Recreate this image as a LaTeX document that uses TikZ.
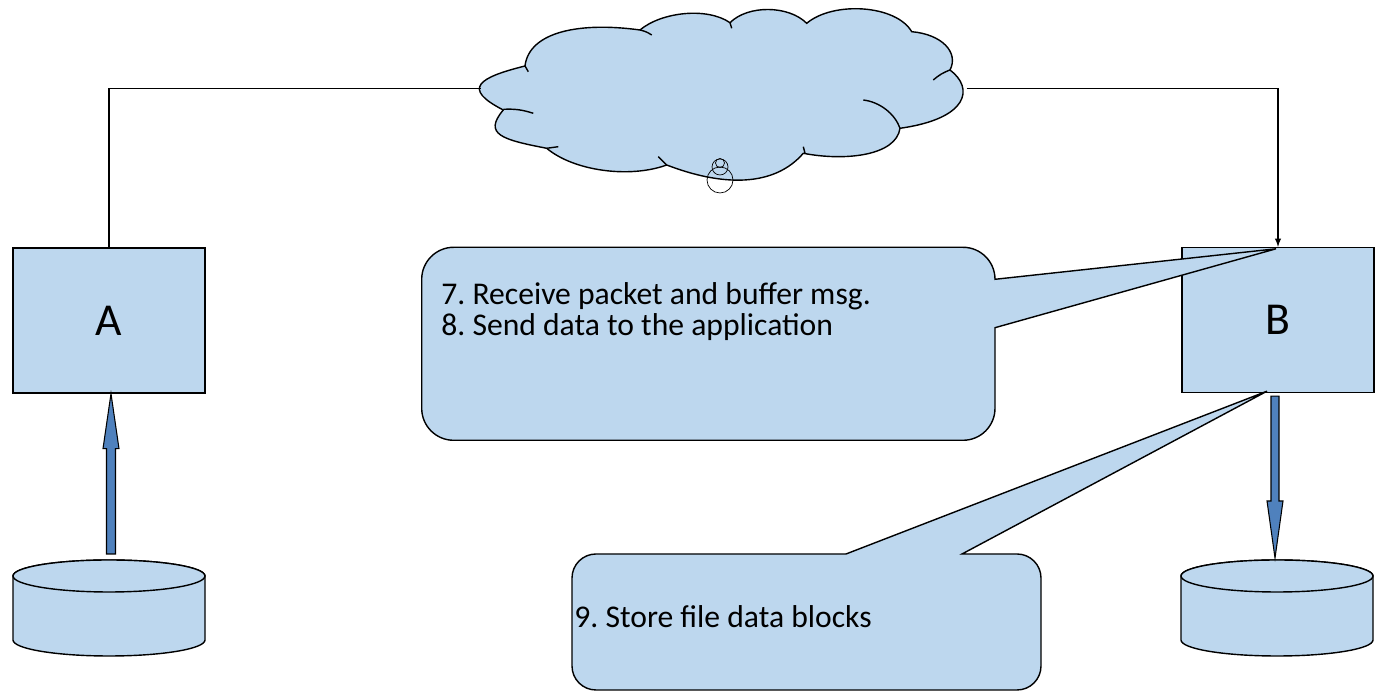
\documentclass[tikz,border=0pt]{standalone}
\usepackage{fontspec}
\setmainfont{Carlito}
\usetikzlibrary{arrows.meta,calc}
\definecolor{paleblue}{HTML}{BDD7EE}
\definecolor{darkblue}{HTML}{4F81BD}
\tikzset{
  host/.style={draw, line width=0.8pt, fill=paleblue, minimum width=3.84cm,
    minimum height=2.9cm, font=\fontsize{26}{30}\selectfont},
  net/.style={draw, line width=0.8pt, fill=paleblue},
  link/.style={line width=0.6pt},
  bubble/.style={draw, line width=0.8pt, fill=paleblue},
  note/.style={inner sep=0pt, anchor=base west, font=\fontsize{18}{21}\selectfont},
  disk/.style={draw, line width=0.8pt, fill=paleblue},
  blockarrow/.style={draw, line width=0.6pt, fill=darkblue}
}
\frenchspacing
\begin{document}
\begin{tikzpicture}[x=0.02cm, y=0.02cm, >=latex]
	\useasboundingbox (0,0) rectangle (1383,692);
	% disks
	\foreach \cx in {109,1277} {
		\draw[disk] (\cx-96,116) -- (\cx-96,52) arc[start angle=180, end angle=360, x radius=96, y radius=16]
			-- (\cx+96,116) arc[start angle=0, end angle=180, x radius=96, y radius=16] -- cycle;
		\draw[disk] (\cx,116) ellipse[x radius=96, y radius=16];
	}
	\coordinate (dbA) at (109,132);
	\coordinate (dbB) at (1277,132);
	% hosts
	\node[host] (A) at (109,371.5) {A};
	\node[host] (B) at (1278,372) {B};
	% network cloud
	\draw[net] (503.3,582) .. controls (461,603.6) and (478.9,614.5) .. (525,626)
		.. controls (529.2,660.7) and (580.6,670.2) .. (640,662)
		.. controls (661.4,680) and (707.1,685.1) .. (730,669.3)
		.. controls (748,687.3) and (788.7,686.7) .. (806.7,668.7)
		.. controls (833.5,691.2) and (896.2,687.1) .. (911.7,660.3)
		.. controls (941.6,657.7) and (959.1,639.8) .. (950,622)
		.. controls (974,604) and (969.3,573.5) .. (900,563.7)
		.. controls (896.1,536) and (844.5,530.7) .. (803.3,538.7)
		.. controls (773.8,504.7) and (722.7,505.5) .. (666.7,527)
		.. controls (629.1,513.3) and (573.5,521.2) .. (546.7,543.7)
		.. controls (502.5,552.3) and (482.7,557.5) .. (503.3,582) -- cycle;
	\draw[net, fill=none] (525,626) to[bend right=10] (528.3,620.3)
		(640,662) to[bend left=10] (651.7,657)
		(730,669.3) -- (731.7,663.7)
		(933.3,612) to[bend left=10] (950,622)
		(863.3,592) .. controls (880,590) and (895,578) .. (900,563.7)
		(803.3,545.3) -- (805,538.7)
		(658.3,535.3) -- (666.7,527)
		(546.7,543.7) -- (558.3,545.3)
		(503.3,582.7) to[bend left=10] (533.3,578.7);
	\coordinate (netW) at (481,603.5);
	\coordinate (netE) at (966.7,603.5);
	\draw (720,529) circle[radius=4.5];
	\draw (720,525) circle[radius=8];
	\draw (720,512) circle[radius=13];
	\draw[link] (A.north) |- (netW);
	\draw[link,->] (netE) -| (B.north);
	% block arrows
	\draw[blockarrow] ($(dbA)+(-2.5,6)$) -- ($(A.south)+(-2.5,-55)$) -- ($(A.south)+(-6,-55)$)
		-- ($(A.south)+(2,0)$) -- ($(A.south)+(10,-55)$) -- ($(A.south)+(6.5,-55)$) -- ($(dbA)+(6.5,6)$) -- cycle;
	\draw[blockarrow] ($(B.south)+(-7,-3)$) -- ($(dbB)+(-6,59)$) -- ($(dbB)+(-10,59)$)
		-- ($(dbB)+(-2,2)$) -- ($(dbB)+(6,59)$) -- ($(dbB)+(2,59)$) -- ($(B.south)+(1,-3)$) -- cycle;
	% callouts
	\draw[bubble] (453.7,444.7) -- (963,444.7) arc[start angle=90, end angle=0, radius=32]
		-- ($(B.north)+(-2,-2)$) -- (995,364.3) -- (995,283.7) arc[start angle=0, end angle=-90, radius=32]
		-- (453.7,251.7) arc[start angle=270, end angle=180, radius=32]
		-- (421.7,412.7) arc[start angle=180, end angle=90, radius=32] -- cycle;
	\node[note] (t7) at (441,387) {7. Receive packet and buffer msg.};
	\node[note] (t8) at (441,356) {8. Send data to the application};
	\draw[bubble] (596,138) -- (846,138) -- ($(B.south)+(-11,2)$) -- (962,138) -- (1017,138)
		arc[start angle=90, end angle=0, radius=24] -- (1041,26) arc[start angle=0, end angle=-90, radius=24]
		-- (596,2) arc[start angle=270, end angle=180, radius=24] -- (572,114)
		arc[start angle=180, end angle=90, radius=24] -- cycle;
	\node[note] (t9) at (574,64) {9. Store file data blocks};
\end{tikzpicture}
\end{document}
